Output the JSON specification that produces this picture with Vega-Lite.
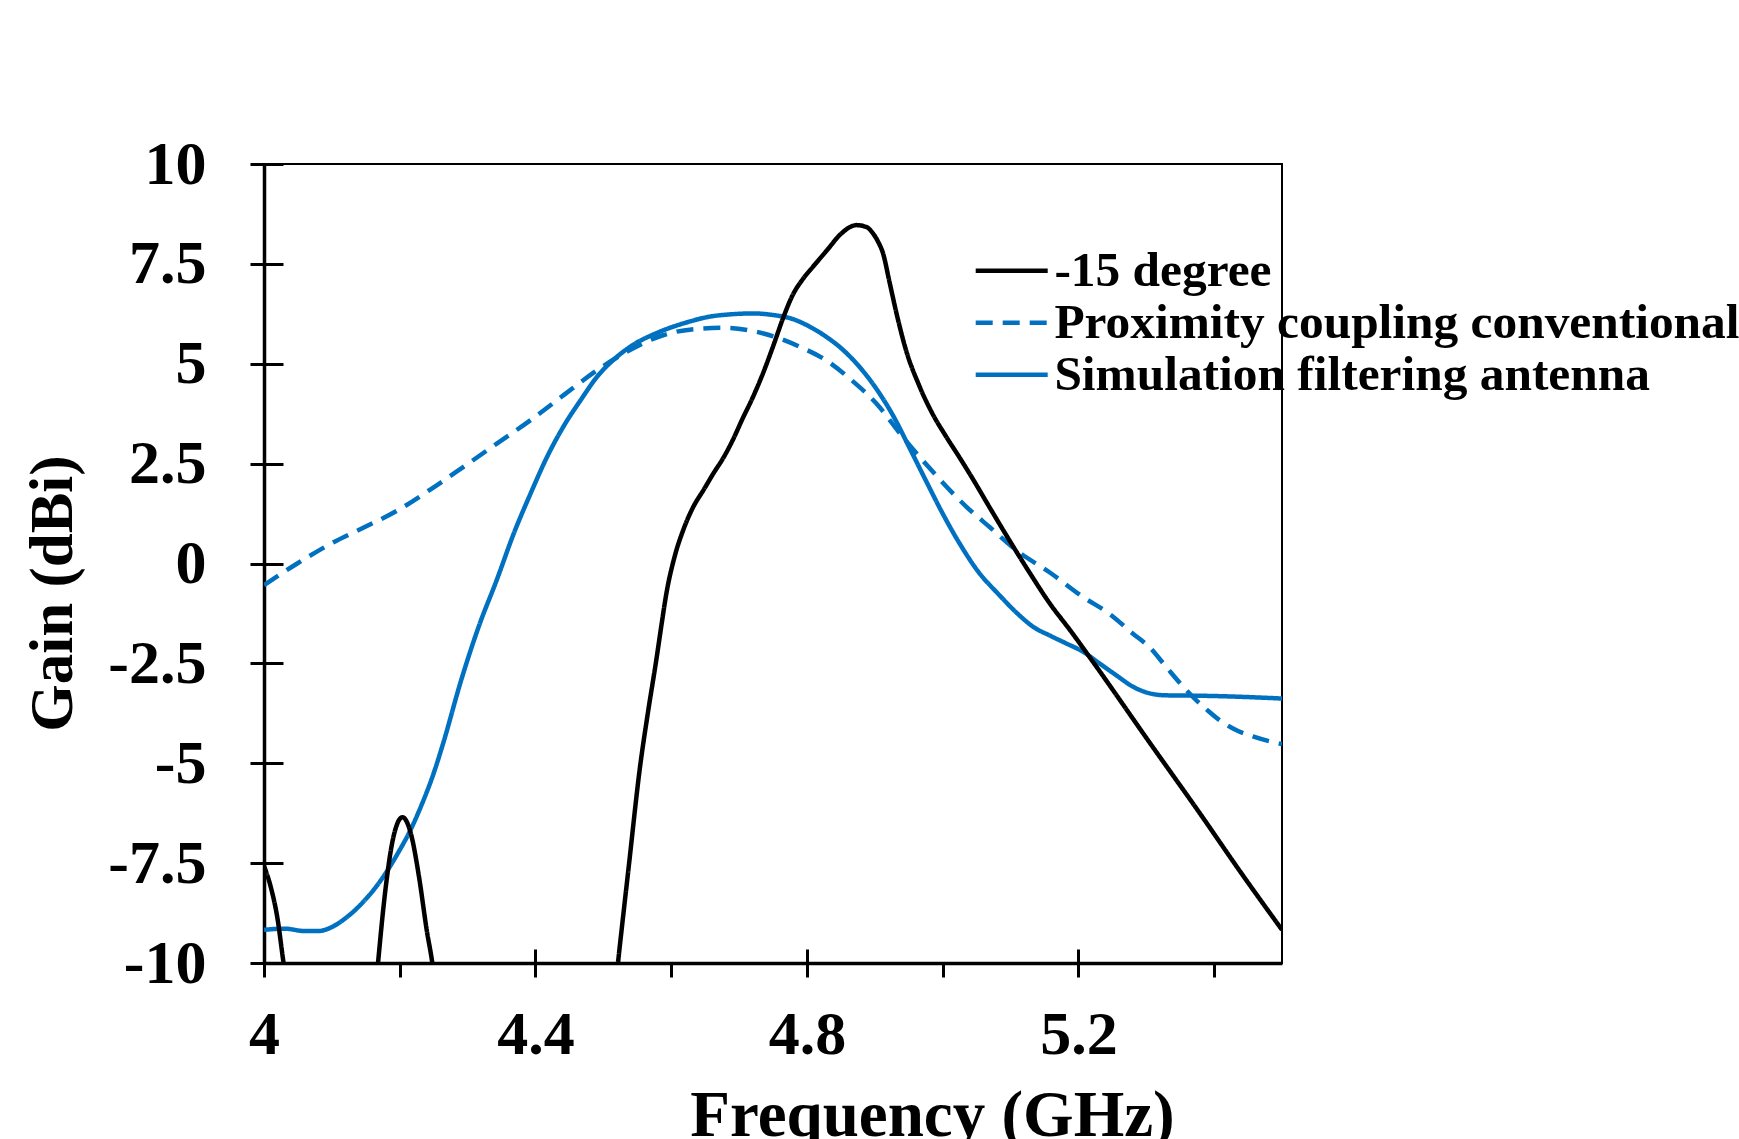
{
  "$schema": "https://vega.github.io/schema/vega-lite/v6.json",
  "width": 1018,
  "height": 799,
  "autosize": {"type": "none"},
  "padding": {"left": 264, "top": 164, "right": 457, "bottom": 176},
  "background": "white",
  "config": {
    "font": "Liberation Serif",
    "view": {"stroke": "black", "strokeWidth": 2}
  },
  "data": {
    "values": [
      {"s":"-15 degree","f":4.000,"g":-7.57},{"s":"-15 degree","f":4.010,"g":-8.1},{"s":"-15 degree","f":4.020,"g":-8.9},{"s":"-15 degree","f":4.028,"g":-9.9},{"s":"-15 degree","f":4.034,"g":-10.6},{"s":"-15 degree","f":4.045,"g":-12.5},{"s":"-15 degree","f":4.10,"g":-14},
      {"s":"-15 degree","f":4.150,"g":-13},{"s":"-15 degree","f":4.160,"g":-11.5},{"s":"-15 degree","f":4.168,"g":-10},{"s":"-15 degree","f":4.178,"g":-8.3},{"s":"-15 degree","f":4.190,"g":-6.9},{"s":"-15 degree","f":4.204,"g":-6.35},{"s":"-15 degree","f":4.217,"g":-6.8},{"s":"-15 degree","f":4.228,"g":-7.8},{"s":"-15 degree","f":4.240,"g":-9.2},{"s":"-15 degree","f":4.248,"g":-10},{"s":"-15 degree","f":4.258,"g":-11.5},{"s":"-15 degree","f":4.30,"g":-14},
      {"s":"-15 degree","f":4.45,"g":-14},{"s":"-15 degree","f":4.505,"g":-13},{"s":"-15 degree","f":4.514,"g":-11.2},{"s":"-15 degree","f":4.522,"g":-9.93},{"s":"-15 degree","f":4.538,"g":-7.5},{"s":"-15 degree","f":4.554,"g":-5.1},{"s":"-15 degree","f":4.566,"g":-3.7},{"s":"-15 degree","f":4.578,"g":-2.42},{"s":"-15 degree","f":4.586,"g":-1.5},{"s":"-15 degree","f":4.593,"g":-0.74},{"s":"-15 degree","f":4.605,"g":0.17},{"s":"-15 degree","f":4.618,"g":0.85},{"s":"-15 degree","f":4.632,"g":1.4},{"s":"-15 degree","f":4.648,"g":1.85},{"s":"-15 degree","f":4.662,"g":2.25},{"s":"-15 degree","f":4.677,"g":2.65},{"s":"-15 degree","f":4.691,"g":3.1},{"s":"-15 degree","f":4.705,"g":3.62},{"s":"-15 degree","f":4.720,"g":4.15},{"s":"-15 degree","f":4.735,"g":4.75},{"s":"-15 degree","f":4.750,"g":5.43},{"s":"-15 degree","f":4.765,"g":6.15},{"s":"-15 degree","f":4.779,"g":6.72},{"s":"-15 degree","f":4.794,"g":7.12},{"s":"-15 degree","f":4.809,"g":7.43},{"s":"-15 degree","f":4.830,"g":7.85},{"s":"-15 degree","f":4.850,"g":8.25},{"s":"-15 degree","f":4.873,"g":8.47},{"s":"-15 degree","f":4.888,"g":8.42},{"s":"-15 degree","f":4.897,"g":8.27},{"s":"-15 degree","f":4.905,"g":8.05},{"s":"-15 degree","f":4.912,"g":7.77},{"s":"-15 degree","f":4.922,"g":7.02},{"s":"-15 degree","f":4.932,"g":6.26},{"s":"-15 degree","f":4.946,"g":5.34},{"s":"-15 degree","f":4.966,"g":4.43},{"s":"-15 degree","f":4.985,"g":3.75},{"s":"-15 degree","f":5.005,"g":3.18},{"s":"-15 degree","f":5.025,"g":2.65},{"s":"-15 degree","f":5.045,"g":2.1},{"s":"-15 degree","f":5.070,"g":1.38},{"s":"-15 degree","f":5.098,"g":0.59},{"s":"-15 degree","f":5.127,"g":-0.2},{"s":"-15 degree","f":5.157,"g":-0.98},{"s":"-15 degree","f":5.190,"g":-1.72},{"s":"-15 degree","f":5.221,"g":-2.45},{"s":"-15 degree","f":5.309,"g":-4.58},{"s":"-15 degree","f":5.378,"g":-6.23},{"s":"-15 degree","f":5.440,"g":-7.75},{"s":"-15 degree","f":5.500,"g":-9.17},

      {"s":"Proximity coupling conventional","f":4.000,"g":-0.54},{"s":"Proximity coupling conventional","f":4.049,"g":0.0},{"s":"Proximity coupling conventional","f":4.098,"g":0.49},{"s":"Proximity coupling conventional","f":4.147,"g":0.9},{"s":"Proximity coupling conventional","f":4.196,"g":1.32},{"s":"Proximity coupling conventional","f":4.245,"g":1.85},{"s":"Proximity coupling conventional","f":4.294,"g":2.42},{"s":"Proximity coupling conventional","f":4.343,"g":3.0},{"s":"Proximity coupling conventional","f":4.393,"g":3.59},{"s":"Proximity coupling conventional","f":4.442,"g":4.22},{"s":"Proximity coupling conventional","f":4.491,"g":4.84},{"s":"Proximity coupling conventional","f":4.540,"g":5.35},{"s":"Proximity coupling conventional","f":4.589,"g":5.72},{"s":"Proximity coupling conventional","f":4.630,"g":5.86},{"s":"Proximity coupling conventional","f":4.681,"g":5.9},{"s":"Proximity coupling conventional","f":4.720,"g":5.82},{"s":"Proximity coupling conventional","f":4.755,"g":5.66},{"s":"Proximity coupling conventional","f":4.790,"g":5.42},{"s":"Proximity coupling conventional","f":4.828,"g":5.09},{"s":"Proximity coupling conventional","f":4.865,"g":4.6},{"s":"Proximity coupling conventional","f":4.902,"g":4.01},{"s":"Proximity coupling conventional","f":4.941,"g":3.17},{"s":"Proximity coupling conventional","f":4.980,"g":2.4},{"s":"Proximity coupling conventional","f":5.035,"g":1.42},{"s":"Proximity coupling conventional","f":5.070,"g":0.9},{"s":"Proximity coupling conventional","f":5.108,"g":0.34},{"s":"Proximity coupling conventional","f":5.160,"g":-0.25},{"s":"Proximity coupling conventional","f":5.206,"g":-0.83},{"s":"Proximity coupling conventional","f":5.245,"g":-1.25},{"s":"Proximity coupling conventional","f":5.280,"g":-1.75},{"s":"Proximity coupling conventional","f":5.305,"g":-2.1},{"s":"Proximity coupling conventional","f":5.329,"g":-2.58},{"s":"Proximity coupling conventional","f":5.350,"g":-3.0},{"s":"Proximity coupling conventional","f":5.368,"g":-3.33},{"s":"Proximity coupling conventional","f":5.390,"g":-3.67},{"s":"Proximity coupling conventional","f":5.408,"g":-3.92},{"s":"Proximity coupling conventional","f":5.430,"g":-4.15},{"s":"Proximity coupling conventional","f":5.457,"g":-4.33},{"s":"Proximity coupling conventional","f":5.500,"g":-4.52},

      {"s":"Simulation filtering antenna","f":4.000,"g":-9.17},{"s":"Simulation filtering antenna","f":4.030,"g":-9.14},{"s":"Simulation filtering antenna","f":4.060,"g":-9.2},{"s":"Simulation filtering antenna","f":4.080,"g":-9.2},{"s":"Simulation filtering antenna","f":4.100,"g":-9.1},{"s":"Simulation filtering antenna","f":4.120,"g":-8.88},{"s":"Simulation filtering antenna","f":4.140,"g":-8.58},{"s":"Simulation filtering antenna","f":4.167,"g":-8.05},{"s":"Simulation filtering antenna","f":4.185,"g":-7.6},{"s":"Simulation filtering antenna","f":4.199,"g":-7.2},{"s":"Simulation filtering antenna","f":4.215,"g":-6.7},{"s":"Simulation filtering antenna","f":4.232,"g":-6.05},{"s":"Simulation filtering antenna","f":4.250,"g":-5.25},{"s":"Simulation filtering antenna","f":4.264,"g":-4.5},{"s":"Simulation filtering antenna","f":4.290,"g":-2.95},{"s":"Simulation filtering antenna","f":4.317,"g":-1.55},{"s":"Simulation filtering antenna","f":4.343,"g":-0.41},{"s":"Simulation filtering antenna","f":4.368,"g":0.75},{"s":"Simulation filtering antenna","f":4.393,"g":1.76},{"s":"Simulation filtering antenna","f":4.418,"g":2.7},{"s":"Simulation filtering antenna","f":4.442,"g":3.45},{"s":"Simulation filtering antenna","f":4.467,"g":4.1},{"s":"Simulation filtering antenna","f":4.491,"g":4.68},{"s":"Simulation filtering antenna","f":4.515,"g":5.1},{"s":"Simulation filtering antenna","f":4.540,"g":5.43},{"s":"Simulation filtering antenna","f":4.583,"g":5.8},{"s":"Simulation filtering antenna","f":4.620,"g":6.02},{"s":"Simulation filtering antenna","f":4.657,"g":6.18},{"s":"Simulation filtering antenna","f":4.690,"g":6.24},{"s":"Simulation filtering antenna","f":4.720,"g":6.26},{"s":"Simulation filtering antenna","f":4.750,"g":6.22},{"s":"Simulation filtering antenna","f":4.779,"g":6.12},{"s":"Simulation filtering antenna","f":4.805,"g":5.92},{"s":"Simulation filtering antenna","f":4.828,"g":5.68},{"s":"Simulation filtering antenna","f":4.853,"g":5.35},{"s":"Simulation filtering antenna","f":4.877,"g":4.93},{"s":"Simulation filtering antenna","f":4.902,"g":4.38},{"s":"Simulation filtering antenna","f":4.927,"g":3.7},{"s":"Simulation filtering antenna","f":4.951,"g":2.9},{"s":"Simulation filtering antenna","f":4.976,"g":2.05},{"s":"Simulation filtering antenna","f":5.000,"g":1.25},{"s":"Simulation filtering antenna","f":5.025,"g":0.5},{"s":"Simulation filtering antenna","f":5.050,"g":-0.15},{"s":"Simulation filtering antenna","f":5.084,"g":-0.8},{"s":"Simulation filtering antenna","f":5.110,"g":-1.25},{"s":"Simulation filtering antenna","f":5.133,"g":-1.58},{"s":"Simulation filtering antenna","f":5.160,"g":-1.82},{"s":"Simulation filtering antenna","f":5.182,"g":-2.0},{"s":"Simulation filtering antenna","f":5.206,"g":-2.2},{"s":"Simulation filtering antenna","f":5.231,"g":-2.5},{"s":"Simulation filtering antenna","f":5.256,"g":-2.8},{"s":"Simulation filtering antenna","f":5.280,"g":-3.08},{"s":"Simulation filtering antenna","f":5.305,"g":-3.25},{"s":"Simulation filtering antenna","f":5.329,"g":-3.3},{"s":"Simulation filtering antenna","f":5.380,"g":-3.31},{"s":"Simulation filtering antenna","f":5.427,"g":-3.33},{"s":"Simulation filtering antenna","f":5.500,"g":-3.38}
    ]
  },
  "encoding": {
    "x": {
      "field": "f", "type": "quantitative",
      "scale": {"domain": [4, 5.5], "nice": false, "zero": false},
      "axis": {
        "values": [4, 4.2, 4.4, 4.6, 4.8, 5, 5.2, 5.4],
        "labelExpr": "indexof([4, 4.4, 4.8, 5.2], datum.value) >= 0 ? toString(datum.value) : ''",
        "title": "Frequency (GHz)",
        "domainColor": "black", "domainWidth": 3.5,
        "tickColor": "black", "tickWidth": 3, "tickSize": 14,
        "labelPadding": 27, "labelFontSize": 62, "labelFontWeight": "bold", "labelColor": "black",
        "labelFlush": false, "labelOverlap": false,
        "titleFontSize": 65, "titleFontWeight": "bold", "titleColor": "black",
        "titleX": 668, "titleY": 172, "titleBaseline": "alphabetic", "titleAlign": "center",
        "grid": true, "gridColor": "black", "gridWidth": 3, "gridDash": [0, 785, 14, 3000],
        "gridOpacity": {"condition": {"test": "indexof([4, 4.4, 4.8, 5.2], datum.value) >= 0", "value": 1}, "value": 0}
      }
    },
    "y": {
      "field": "g", "type": "quantitative",
      "scale": {"domain": [-10, 10], "nice": false, "zero": false},
      "axis": {
        "values": [-10, -7.5, -5, -2.5, 0, 2.5, 5, 7.5, 10],
        "labelExpr": "toString(datum.value)",
        "title": "Gain (dBi)",
        "domainColor": "black", "domainWidth": 3.5,
        "tickColor": "black", "tickWidth": 3, "tickSize": 14,
        "labelPadding": 44, "labelFontSize": 62, "labelFontWeight": "bold", "labelColor": "black",
        "labelFlush": false, "labelOverlap": false,
        "titleFontSize": 61, "titleFontWeight": "bold", "titleColor": "black",
        "titleX": -193, "titleY": 429, "titleBaseline": "alphabetic", "titleAlign": "center", "titleAngle": -90,
        "grid": true, "gridColor": "black", "gridWidth": 3, "gridDash": [19, 3000]
      }
    },
    "color": {
      "field": "s", "type": "nominal",
      "scale": {"domain": ["-15 degree", "Proximity coupling conventional", "Simulation filtering antenna"], "range": ["#000000", "#0070c0", "#0070c0"]},
      "legend": {
        "orient": "none", "legendX": 723, "legendY": 82, "title": null,
        "symbolType": "M-1.8,0H1.8", "symbolSize": 1600, "symbolStrokeWidth": 4.5, "symbolFillColor": "transparent",
        "labelFontSize": 49.4, "labelFontWeight": "bold", "labelColor": "black", "labelLimit": 0,
        "labelOffset": 18, "rowPadding": 1, "padding": 0
      }
    },
    "strokeDash": {
      "field": "s", "type": "nominal",
      "scale": {"domain": ["-15 degree", "Proximity coupling conventional", "Simulation filtering antenna"], "range": [[1, 0], [17, 10], [1, 0]]},
      "legend": {
        "orient": "none", "legendX": 723, "legendY": 82, "title": null,
        "symbolType": "M-1.8,0H1.8", "symbolSize": 1600, "symbolStrokeWidth": 4.5, "symbolFillColor": "transparent",
        "labelFontSize": 49.4, "labelFontWeight": "bold", "labelColor": "black", "labelLimit": 0,
        "labelOffset": 18, "rowPadding": 1, "padding": 0
      }
    }
  },
  "layer": [
    {"transform": [{"filter": "datum.s === 'Proximity coupling conventional'"}], "mark": {"type": "line", "interpolate": "monotone", "strokeWidth": 4.5, "clip": true}},
    {"transform": [{"filter": "datum.s === 'Simulation filtering antenna'"}], "mark": {"type": "line", "interpolate": "monotone", "strokeWidth": 4.5, "clip": true}},
    {"transform": [{"filter": "datum.s === '-15 degree'"}], "mark": {"type": "line", "interpolate": "monotone", "strokeWidth": 4.5, "clip": true}}
  ]
}
